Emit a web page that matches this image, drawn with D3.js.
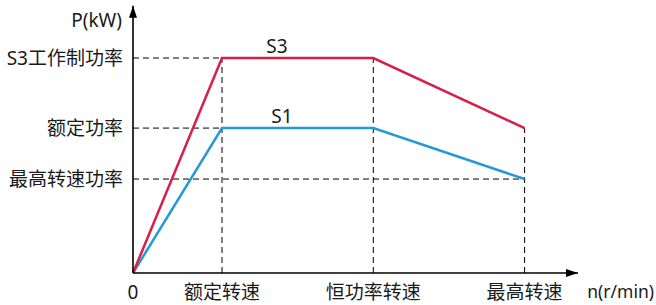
<!DOCTYPE html>
<html>
<head>
<meta charset="utf-8">
<script src="https://cdn.jsdelivr.net/npm/d3@7"></script>
<style>
  html, body { margin: 0; padding: 0; background: #fff; }
  svg { display: block; }
</style>
</head>
<body>
<div id="chart"></div>
<script>
// speed points along the x axis (relative units)
const speedLabels = ['0', '额定转速', '恒功率转速', '最高转速'];
const speeds = [0, 1, 2.7, 4.4];

// power levels (relative to S3 power)
const powerLabels = ['S3工作制功率', '额定功率', '最高转速功率'];
const powerLevels = [1, 0.674, 0.437];

// curves
const s3Values = [0, 1, 1, 0.674];
const s1Values = [0, 0.674, 0.674, 0.437];

const width = 656, height = 305;
const font = '"Noto Sans", "Noto Sans CJK SC", sans-serif';
const colors = { s3: '#d91e48', s1: '#2499d6', axis: '#000', dash: '#000', text: '#1a1a1a' };

const x = d3.scaleLinear().domain([0, 5]).range([133, 578]);
const y = d3.scaleLinear().domain([0, 1]).range([273, 58]);

const svg = d3.select('#chart').append('svg')
  .attr('width', width)
  .attr('height', height);

const defs = svg.append('defs');
defs.append('marker')
  .attr('id', 'arrow')
  .attr('viewBox', '0 0 12 8')
  .attr('refX', 12).attr('refY', 4)
  .attr('markerWidth', 12).attr('markerHeight', 8)
  .attr('markerUnits', 'userSpaceOnUse')
  .attr('orient', 'auto')
  .append('path')
  .attr('d', 'M0,0 L12,4 L0,8 Z')
  .attr('fill', colors.axis);

// dashed guides
const guides = svg.append('g').attr('class', 'guides')
  .attr('stroke', colors.dash)
  .attr('stroke-width', 1)
  .attr('stroke-dasharray', '6,4')
  .attr('fill', 'none');

// horizontal: from y axis to the point where the level is reached
const hEnds = [speeds[2], speeds[2], speeds[3]];
powerLevels.forEach((p, i) => {
  guides.append('line')
    .attr('x1', x(0)).attr('x2', x(hEnds[i]))
    .attr('y1', y(p)).attr('y2', y(p));
});

// vertical: from x axis up to the S3 curve
speeds.slice(1).forEach((s, i) => {
  guides.append('line')
    .attr('x1', x(s)).attr('x2', x(s))
    .attr('y1', y(0)).attr('y2', y(s3Values[i + 1]));
});

// curves
const line = d3.line().x((d, i) => x(speeds[i])).y(d => y(d));
svg.append('path')
  .attr('d', line(s1Values))
  .attr('fill', 'none')
  .attr('stroke', colors.s1)
  .attr('stroke-width', 2.5);
svg.append('path')
  .attr('d', line(s3Values))
  .attr('fill', 'none')
  .attr('stroke', colors.s3)
  .attr('stroke-width', 2.5);

// axes
svg.append('line')
  .attr('x1', x(0)).attr('y1', y(0))
  .attr('x2', x(5)).attr('y2', y(0))
  .attr('stroke', colors.axis).attr('stroke-width', 1.6)
  .attr('marker-end', 'url(#arrow)');
svg.append('line')
  .attr('x1', x(0)).attr('y1', y(0))
  .attr('x2', x(0)).attr('y2', y(1.243))
  .attr('stroke', colors.axis).attr('stroke-width', 1.6)
  .attr('marker-end', 'url(#arrow)');

// labels
const text = svg.append('g')
  .attr('font-family', font)
  .attr('font-size', 19)
  .attr('fill', colors.text);

text.selectAll('.ylab')
  .data(powerLabels)
  .enter().append('text')
  .attr('x', x(0) - 10)
  .attr('y', (d, i) => y(powerLevels[i]))
  .attr('dy', '0.35em')
  .attr('text-anchor', 'end')
  .text(d => d);

text.selectAll('.xlab')
  .data(speedLabels)
  .enter().append('text')
  .attr('x', (d, i) => x(speeds[i]))
  .attr('y', y(0) + 19)
  .attr('dy', '0.35em')
  .attr('text-anchor', 'middle')
  .text(d => d);

text.append('text')
  .attr('x', x(0) - 11).attr('y', 20).attr('dy', '0.35em')
  .attr('text-anchor', 'end')
  .text('P(kW)');

text.append('text')
  .attr('x', 654).attr('y', y(0) + 19).attr('dy', '0.35em')
  .attr('text-anchor', 'end')
  .attr('font-size', 17.5)
  .text('n(r/min)');

text.append('text')
  .attr('x', 277).attr('y', y(1) - 12).attr('dy', '0.35em')
  .attr('text-anchor', 'middle')
  .text('S3');

text.append('text')
  .attr('x', 282).attr('y', y(0.674) - 12).attr('dy', '0.35em')
  .attr('text-anchor', 'middle')
  .text('S1');
</script>
</body>
</html>
